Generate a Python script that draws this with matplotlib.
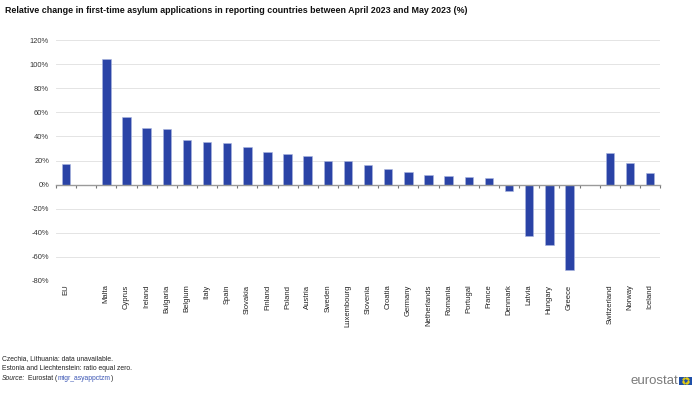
import matplotlib
matplotlib.use("Agg")
import matplotlib.pyplot as plt
import matplotlib.transforms as mtransforms
import numpy as np

plt.rcParams['font.family'] = ['Liberation Sans', 'DejaVu Sans']

categories = ["EU", "", "Malta", "Cyprus", "Ireland", "Bulgaria", "Belgium", "Italy", "Spain",
              "Slovakia", "Finland", "Poland", "Austria", "Sweden", "Luxembourg", "Slovenia",
              "Croatia", "Germany", "Netherlands", "Romania", "Portugal", "France", "Denmark",
              "Latvia", "Hungary", "Greece", "", "Switzerland", "Norway", "Iceland"]
values = [17.4, None, 104.5, 55.9, 47.3, 46.5, 37.2, 35.2, 34.6,
          31.0, 27.2, 25.3, 24.0, 20.0, 20.0, 16.3,
          12.7, 10.8, 8.0, 7.5, 6.0, 5.5, -5.3,
          -42.3, -49.8, -70.8, None, 26.3, 17.7, 9.7]
yticks = [-80, -60, -40, -20, 0, 20, 40, 60, 80, 100, 120]

bar_color = "#2a43a6"

fig = plt.figure(figsize=(7.0, 3.93), dpi=100)
ax = fig.add_axes([0.08, 0.285, 0.863, 0.613])

x = np.arange(len(categories))
for xi, v in zip(x, values):
    if v is not None:
        ax.bar(xi, v, width=0.42, color=bar_color, edgecolor="#aab6e0", linewidth=0.4, zorder=3)

ax.set_xlim(-0.5, len(categories) - 0.5)
ax.set_ylim(-80, 120)
ax.set_yticks(yticks)
ax.set_yticklabels([f"{t}%" for t in yticks], fontsize=5.4, color="#333333")
ax.tick_params(axis='y', length=0, pad=5)
ax.grid(axis='y', color="#e4e4e4", linewidth=0.7, zorder=0)
for s in ["top", "right", "left"]:
    ax.spines[s].set_visible(False)
ax.spines['bottom'].set_position(('data', 0))
ax.spines['bottom'].set_color("#9a9a9a")
ax.spines['bottom'].set_linewidth(1.0)
ax.spines['bottom'].set_zorder(4)
ax.set_xticks(np.arange(len(categories) + 1) - 0.5)
ax.set_xticklabels([])
ax.tick_params(axis='x', length=2.5, width=0.8, color="#777777", direction='out')

trans = mtransforms.blended_transform_factory(ax.transData, ax.transAxes)
for xi, c in zip(x, categories):
    if c:
        ax.text(xi, -0.015, c, transform=trans, rotation=90, ha='center', va='top',
                fontsize=5.5, color="#222222")

fig.text(0.007, 0.985, "Relative change in first-time asylum applications in reporting countries between April 2023 and May 2023 (%)",
         fontsize=6.4, fontweight='bold', ha='left', va='top', color="#111111")

fs = 4.9
fig.text(0.003, 1 - 358.5/393, "Czechia, Lithuania: data unavailable.", fontsize=fs, ha='left', va='center', color="#222222")
fig.text(0.003, 1 - 369/393, "Estonia and Liechtenstein: ratio equal zero.", fontsize=fs, ha='left', va='center', color="#222222")
ysrc = 1 - 379/393
t1 = fig.text(0.003, ysrc, "Source:", fontsize=fs, ha='left', va='center', color="#222222", style='italic')
fig.canvas.draw()
r = fig.canvas.get_renderer()
bb = t1.get_window_extent(r)
xf = (bb.x1 + 3) / fig.bbox.width
t2 = fig.text(xf, ysrc, "Eurostat (", fontsize=fs, ha='left', va='center', color="#222222")
bb = t2.get_window_extent(r)
xf = bb.x1 / fig.bbox.width
t3 = fig.text(xf, ysrc, "migr_asyappctzm", fontsize=fs, ha='left', va='center', color="#3a55b4")
bb = t3.get_window_extent(r)
xf = bb.x1 / fig.bbox.width
fig.text(xf, ysrc, ")", fontsize=fs, ha='left', va='center', color="#222222")

fig.text(678/700, 1 - 381/393, "eurostat", fontsize=9.5, ha='right', va='center', color="#7a7a7a")
logo = fig.add_axes([679/700, 1 - 385/393, 13/700, 8.5/393])
logo.set_facecolor("#1f4fa8")
logo.set_xticks([]); logo.set_yticks([])
for s in logo.spines.values():
    s.set_visible(False)
ang = np.linspace(0, 2*np.pi, 12, endpoint=False)
logo.scatter(0.5 + 0.22*np.cos(ang), 0.5 + 0.32*np.sin(ang), s=0.25, color="#ffdd00")
logo.set_xlim(0, 1); logo.set_ylim(0, 1)

fig.savefig("out.png", dpi=100)
